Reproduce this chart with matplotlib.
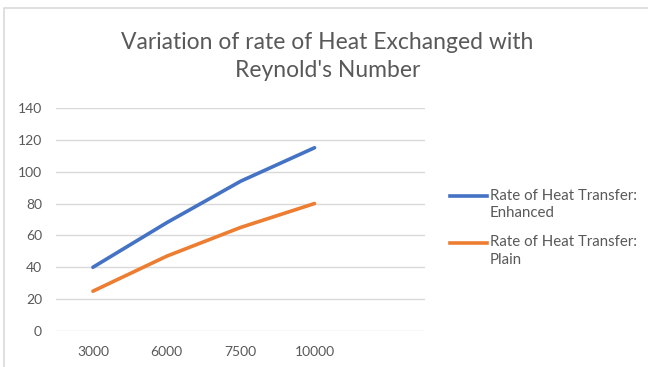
import matplotlib.pyplot as plt
import numpy as np
from matplotlib.lines import Line2D

plt.rcParams['font.family'] = ['Lato', 'DejaVu Sans']

# Reynold's number categories and heat transfer rates
reynolds = ["3000", "6000", "7500", "10000"]
enhanced = [40, 68, 94, 115]
plain = [25, 47, 65, 80]

fig = plt.figure(figsize=(6.48, 3.67), dpi=100)
ax = fig.add_axes([0.0864, 0.098, 0.570, 0.608])

x = np.arange(len(reynolds))
ax.plot(x, enhanced, color="#4472C4", lw=2.6, solid_capstyle="round")
ax.plot(x, plain, color="#ED7D31", lw=2.6, solid_capstyle="round")

ax.set_xlim(-0.5, len(reynolds) + 0.5)
ax.set_ylim(0, 140)
ax.set_yticks(np.arange(0, 141, 20))
ax.set_xticks(x)
ax.set_xticklabels(reynolds)
ax.grid(axis="y", color="#d9d9d9", lw=1)
ax.set_axisbelow(True)
for s in ax.spines.values():
    s.set_visible(False)
ax.tick_params(length=0, labelsize=10, colors="#595959")
ax.tick_params(axis="x", pad=11)
ax.tick_params(axis="y", pad=10)

fig.text(0.505, 0.845, "Variation of rate of Heat Exchanged with\nReynold's Number",
         ha="center", va="center", fontsize=16.5, color="#595959", linespacing=1.4)

# legend drawn on the right of the plot area
legend_items = [("#4472C4", "Rate of Heat Transfer:\nEnhanced", 0.465),
                ("#ED7D31", "Rate of Heat Transfer:\nPlain", 0.338)]
for color, label, yy in legend_items:
    fig.add_artist(Line2D([0.694, 0.752], [yy, yy], color=color, lw=2.6,
                          transform=fig.transFigure))
    fig.text(0.756, yy + 0.021, label, va="top", ha="left", fontsize=10.8,
             color="#595959", linespacing=1.35)

# chart border
fig.add_artist(Line2D([0.006, 0.006, 1.0], [0.0, 0.978, 0.978], color="#d9d9d9",
                      lw=1.2, transform=fig.transFigure))

fig.savefig("out.png", dpi=100)
